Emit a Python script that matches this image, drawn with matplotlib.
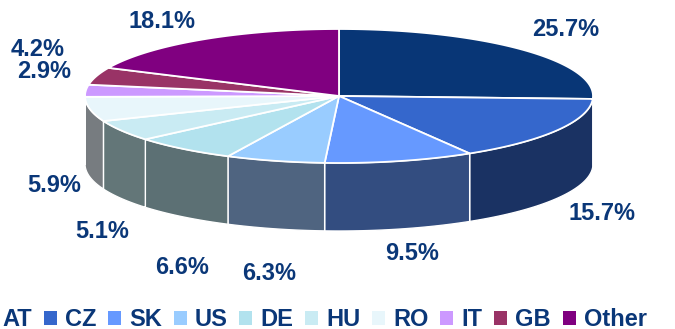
import matplotlib

matplotlib.use("Agg")
import matplotlib.pyplot as plt
import numpy as np
from matplotlib.patches import Patch, Polygon

plt.rcParams["font.family"] = ["Liberation Sans", "DejaVu Sans"]

countries = ["AT", "CZ", "SK", "US", "DE", "HU", "RO", "IT", "GB", "Other"]
shares = [25.7, 15.7, 9.5, 6.3, 6.6, 5.1, 5.9, 2.9, 4.2, 18.1]

top_colors = ["#083676", "#3567cc", "#6699ff", "#99ccff", "#b2e2ee",
              "#c9ebf3", "#e8f6fb", "#cc99ff", "#993366", "#800080"]
side_colors = ["#1a3263", "#1a3263", "#334d80", "#4f6480", "#5c7074",
               "#637678", "#777c80", "#777c80", "#777c80", "#777c80"]
label_xy = [(566, 30), (602, 214), (412, 254), (269, 273), (182, 267),
            (102, 231), (54, 185), (44, 71), (38, 49), (162, 21)]

CX, CY = 339, 96
RX, RY = 254, 67
DEPTH = 68
TEXT_COLOR = "#0a3778"


def rim(t):
    # t runs clockwise from 12 o'clock, in radians
    return CX + RX * np.sin(t), CY - RY * np.cos(t)


fig = plt.figure(figsize=(6.75, 3.29), dpi=100)
ax = fig.add_axes([0, 0, 1, 1])
ax.set(xlim=(0, 675), ylim=(329, 0))
ax.axis("off")

edges = np.cumsum([0] + shares) / sum(shares) * 2 * np.pi

# front wall first, only the part facing the viewer
for start, end, color in zip(edges[:-1], edges[1:], side_colors):
    lo, hi = max(start, np.pi / 2), min(end, 3 * np.pi / 2)
    if lo >= hi:
        continue
    x, y = rim(np.linspace(lo, hi, 60))
    pts = np.r_[np.c_[x, y], np.c_[x, y + DEPTH][::-1]]
    ax.add_patch(Polygon(pts, facecolor=color, edgecolor="white", lw=1))

for start, end, color in zip(edges[:-1], edges[1:], top_colors):
    x, y = rim(np.linspace(start, end, 120))
    pts = np.r_[[(CX, CY)], np.c_[x, y]]
    ax.add_patch(Polygon(pts, facecolor=color, edgecolor="white", lw=1.3))

for share, (x, y) in zip(shares, label_xy):
    ax.text(x, y, f"{share}%", ha="center", va="center", fontsize=17,
            fontweight="bold", color=TEXT_COLOR)

handles = [Patch(facecolor=c, edgecolor="none") for c in top_colors]
leg = ax.legend(handles, countries, ncols=len(countries), frameon=False,
                loc="center", bbox_to_anchor=(314, 320),
                bbox_transform=ax.transData, fontsize=17, labelcolor=TEXT_COLOR,
                handlelength=0.55, handleheight=0.55, handletextpad=0.34,
                columnspacing=0.5, borderpad=0, borderaxespad=0)
for text in leg.get_texts():
    text.set_fontweight("bold")

fig.savefig("out.png", dpi=100)
